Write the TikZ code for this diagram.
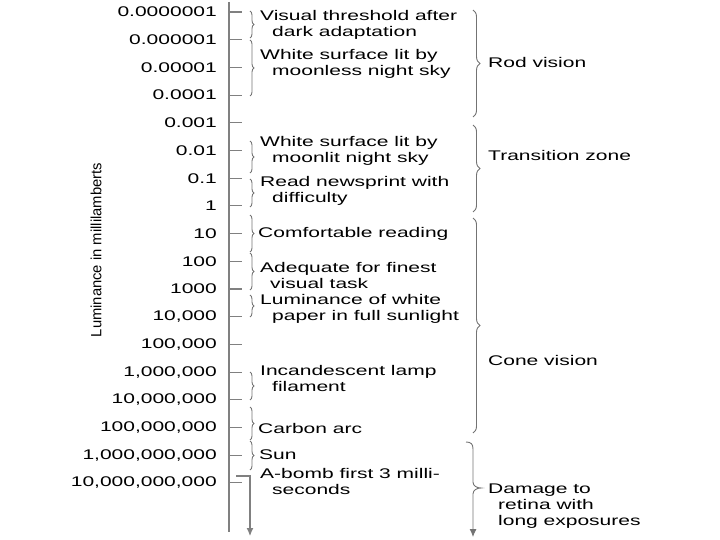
\documentclass[tikz,border=0pt]{standalone}
\usepackage{fontspec}
\setmainfont{Liberation Sans}[FakeStretch=1.5]
\newfontfamily\uprightsans{Liberation Sans}
\usetikzlibrary{decorations.pathreplacing,arrows.meta}

\begin{document}
\begin{tikzpicture}
[%%%%%%%%%%%%%%%%%%%%%%%%%%%%%%
x=1pt,y=-1pt,
rule/.style={draw=black!50,line width=1.6pt},
notch/.style={draw=black!50,line width=1.1pt},
span/.style={draw=black!55,line width=0.9pt,decorate,decoration={brace,amplitude=4pt}},
bigspan/.style={draw=black!55,line width=0.9pt,decorate,decoration={brace,amplitude=7pt}},
val/.style={anchor=east,inner sep=0pt,font=\fontsize{14}{16}\selectfont},
note/.style={anchor=west,inner sep=0pt,align=left,font=\fontsize{14}{16}\selectfont},
]%%%%%%%%%%%%%%%%%%%%%%%%%%%%%%

\useasboundingbox (0,0) rectangle (720,540);

% scale
\coordinate (top) at (229,2);
\coordinate (bot) at (229,532);
\draw[rule] (top) -- (bot);
\foreach \v [count=\i from 0] in {0.0000001,0.000001,0.00001,0.0001,0.001,0.01,0.1,1,10,100,1000,{10,000},{100,000},{1,000,000},{10,000,000},{100,000,000},{1,000,000,000},{10,000,000,000}}{
\coordinate (a\i) at (229,{12+27.7*\i});
\coordinate (b\i) at (242,{12+27.7*\i});
\draw[notch] (a\i) -- (b\i);
\node[val] (v\i) at (217,{12+27.7*\i}) {\v};
}
\node[rotate=90,inner sep=0pt,font=\uprightsans\fontsize{14.8}{16}\selectfont] (axislabel) at (96,250) {Luminance in millilamberts};

% small braces
\foreach \p/\q [count=\k] in {11/38,40/96,141/173,179/207,215/252,253/290,295/317,372/400,407/440,441/470}{
\coordinate (s\k) at (250,\p);
\coordinate (e\k) at (250,\q);
\draw[span] (s\k) -- (e\k);
}
\node[note] (n1) at (260,25) {Visual threshold after\\\hspace*{12pt}dark adaptation};
\node[note] (n2) at (260,64) {White surface lit by\\\hspace*{12pt}moonless night sky};
\node[note] (n3) at (260,151) {White surface lit by\\\hspace*{12pt}moonlit night sky};
\node[note] (n4) at (260,191) {Read newsprint with\\\hspace*{12pt}difficulty};
\node[note] (n5) at (258,234) {Comfortable reading};
\node[note] (n6) at (260,275) {Adequate for finest\\\hspace*{10pt}visual task};
\node[note] (n7) at (260,309) {Luminance of white\\\hspace*{12pt}paper in full sunlight};
\node[note] (n8) at (260,378) {Incandescent lamp\\\hspace*{12pt}filament};
\node[note] (n9) at (258,428) {Carbon arc};
\node[note] (n10) at (259,455) {Sun};
\node[note] (n11) at (260,481) {A-bomb first 3 milli-\\\hspace*{12pt}seconds};

% A-bomb line
\coordinate (ab1) at (236,476);
\coordinate (ab2) at (250,476);
\coordinate (ab3) at (250,536);
\draw[notch,-{Latex[length=8pt,width=7pt]}] (ab1) -- (ab2) -- (ab3);

% big braces
\coordinate (rodtop) at (473,10);
\coordinate (rodbot) at (473,117);
\draw[bigspan] (rodtop) -- (rodbot);
\coordinate (trtop) at (473,125);
\coordinate (trbot) at (473,212);
\draw[bigspan] (trtop) -- (trbot);
\coordinate (cntop) at (473,218);
\coordinate (cnbot) at (473,433);
\draw[bigspan] (cntop) -- (cnbot);
\coordinate (dm1) at (466,442);
\coordinate (dm2) at (481,488);
\coordinate (dm3) at (473,537);
\draw[draw=black!55,line width=0.9pt,-{Latex[length=8pt,width=7pt]}] (dm1) .. controls (471,442) and (473,444) .. (473,449) -- (473,482) .. controls (473,486) and (477,488) .. (dm2) .. controls (477,488) and (473,490) .. (473,494) -- (dm3);

\node[note] (rod) at (488,62) {Rod vision};
\node[note] (trans) at (488,155) {Transition zone};
\node[note] (cone) at (488,360) {Cone vision};
\node[note] (damage) at (488,506) {Damage to\\\hspace*{10pt}retina with\\\hspace*{10pt}long exposures};
\end{tikzpicture}
\end{document}
